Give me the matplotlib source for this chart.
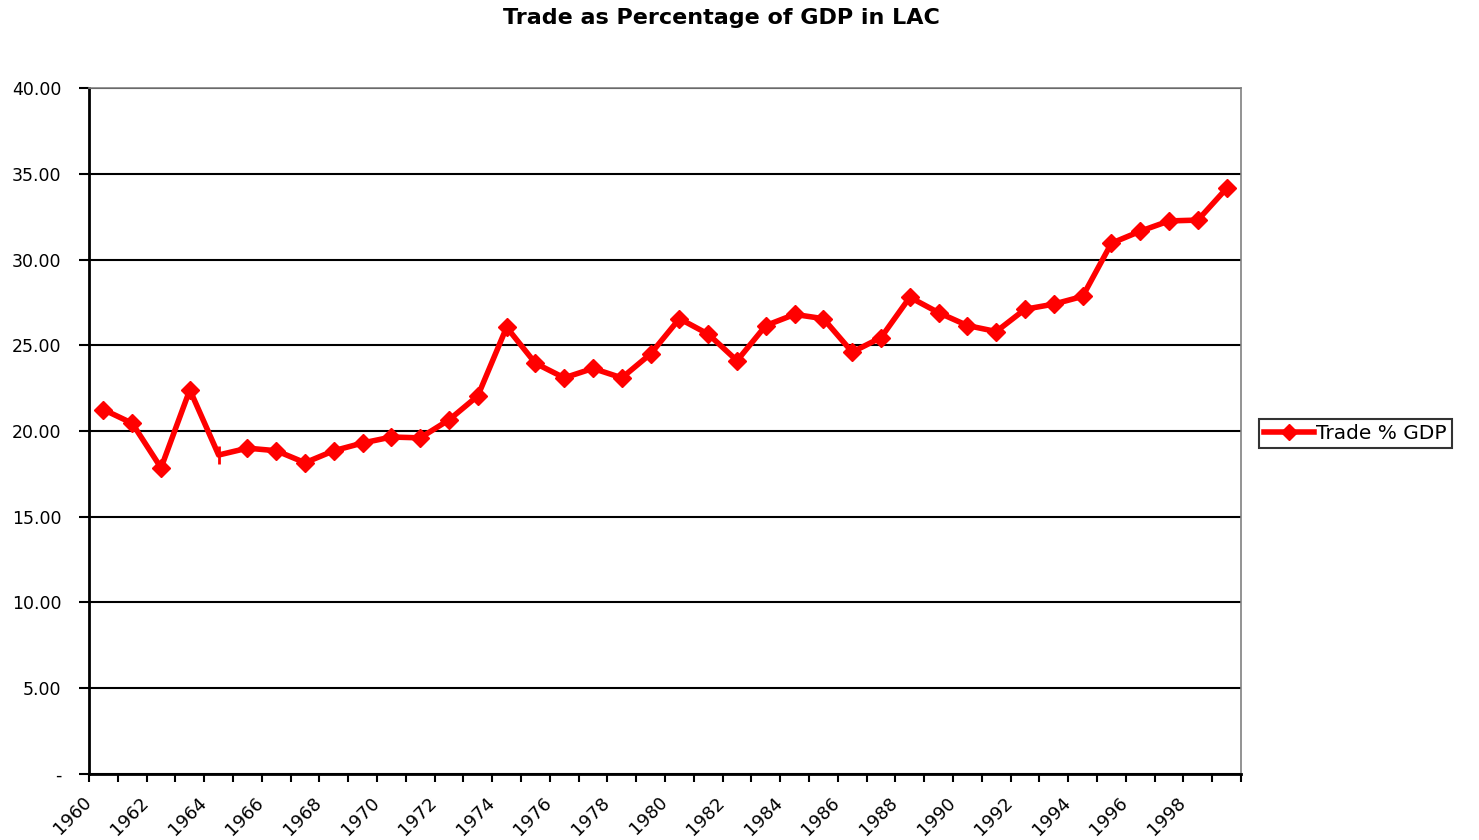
import matplotlib.pyplot as plt
import matplotlib.transforms as mtransforms
from matplotlib.ticker import FixedLocator, FixedFormatter

plt.rcParams['font.family'] = ['DejaVu Sans']

years = list(range(1960, 2000))
trade_pct_gdp = [
    21.25, 20.45, 17.85, 22.40, 18.60, 19.00, 18.85, 18.15, 18.85, 19.30,
    19.65, 19.60, 20.65, 22.05, 26.05, 23.95, 23.10, 23.65, 23.10, 24.50,
    26.55, 25.65, 24.10, 26.15, 26.80, 26.55, 24.60, 25.45, 27.80, 26.90,
    26.15, 25.80, 27.10, 27.40, 27.85, 30.95, 31.65, 32.25, 32.30, 34.15,
]
# 1964 has no diamond in the original, only a small tick
no_marker_years = [1964]
y_ticks = [0, 5, 10, 15, 20, 25, 30, 35, 40]
y_tick_labels = ['-', '5.00', '10.00', '15.00', '20.00', '25.00', '30.00', '35.00', '40.00']

fig = plt.figure(figsize=(14.79, 8.4), dpi=100)
ax = fig.add_axes([0.0602, 0.0786, 0.7789, 0.8166])

red = '#ff0000'
x = list(range(len(years)))
ax.plot(x, trade_pct_gdp, color=red, linewidth=4, zorder=3)
marked = [i for i, yr in enumerate(years) if yr not in no_marker_years]
plain = [i for i, yr in enumerate(years) if yr in no_marker_years]
ax.plot([x[i] for i in marked], [trade_pct_gdp[i] for i in marked],
        linestyle='none', marker='D', markersize=9.5, color=red, zorder=4)
ax.plot([x[i] for i in plain], [trade_pct_gdp[i] for i in plain],
        linestyle='none', marker='|', markersize=13, markeredgewidth=2,
        color=red, zorder=4)

# legend proxy
ax.plot([], [], color=red, linewidth=4, marker='D', markersize=8,
        label='Trade % GDP')

ax.set_xlim(-0.5, len(years) - 0.5)
ax.set_ylim(0, 40)

# category axis: ticks between categories, label every other year
bounds = [k - 0.5 for k in range(len(years) + 1)]
labels = [str(years[k]) if k < len(years) and k % 2 == 0 else '' for k in range(len(bounds))]
ax.xaxis.set_major_locator(FixedLocator(bounds))
ax.xaxis.set_major_formatter(FixedFormatter(labels))
ax.tick_params(axis='x', length=6, width=1.5, labelsize=13, pad=8)
shift = mtransforms.ScaledTranslation(-7 / 100, 0, fig.dpi_scale_trans)
for lab in ax.get_xticklabels():
    lab.set_rotation(45)
    lab.set_ha('right')
    lab.set_va('top')
    lab.set_rotation_mode('anchor')
    lab.set_transform(lab.get_transform() + shift)

ax.set_yticks(y_ticks)
ax.set_yticklabels(y_tick_labels)
ax.tick_params(axis='y', length=7, width=1.5, labelsize=12.5, pad=13)

ax.grid(axis='y', color='black', linewidth=1.5)
ax.set_axisbelow(True)

for side in ['left', 'bottom']:
    ax.spines[side].set_linewidth(2)
    ax.spines[side].set_color('black')
for side in ['top', 'right']:
    ax.spines[side].set_linewidth(1.2)
    ax.spines[side].set_color('#808080')

fig.suptitle('Trade as Percentage of GDP in LAC', x=0.4875, y=0.99,
             fontsize=16, fontweight='bold')

leg = ax.legend(loc='center left', bbox_to_anchor=(1.0155, 0.497),
                fontsize=14.5, frameon=True, fancybox=False, handlelength=2.5,
                handletextpad=0.1, borderpad=0.25, borderaxespad=0)
leg.get_frame().set_edgecolor('black')
leg.get_frame().set_linewidth(1.5)

fig.savefig('out.png', dpi=100)
plt.close(fig)
